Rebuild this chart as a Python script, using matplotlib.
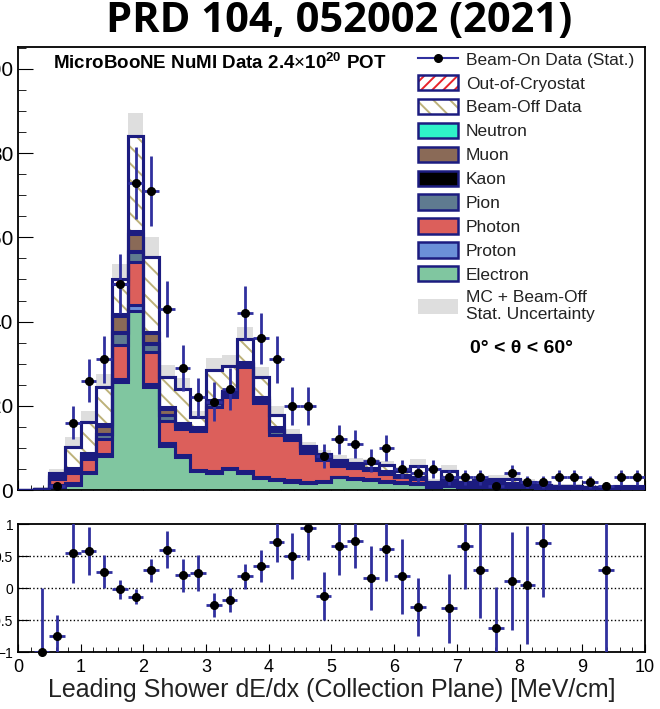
import numpy as np
import matplotlib.pyplot as plt
from matplotlib.patches import Patch
from matplotlib.lines import Line2D
from matplotlib.legend_handler import HandlerTuple
from matplotlib.ticker import MultipleLocator, FixedLocator

plt.rcParams['font.family'] = ['Liberation Sans', 'DejaVu Sans']
plt.rcParams['mathtext.fontset'] = 'custom'
plt.rcParams['mathtext.rm'] = 'Liberation Sans'
plt.rcParams['mathtext.bf'] = 'Liberation Sans:bold'
plt.rcParams['hatch.linewidth'] = 1.4

# 40 bins of 0.25 MeV/cm between 0 and 10
bin_edges = np.linspace(0, 10, 41)

electron = [0, 0.1, 0.8, 1.2, 4.0, 8.0, 25.7, 42.6, 24.5, 10.5,
            7.9, 4.4, 4.0, 4.9, 4.0, 2.8, 2.4, 2.0, 1.7, 2.0,
            3.0, 2.6, 2.4, 2.0, 1.6, 1.5, 0.7, 1.0, 0.7, 0.8,
            0.8, 0.7, 0.6, 0.4, 0.4, 0.4, 0.3, 0.3, 0.3, 0.3]
proton = [0, 0.0, 0.3, 0.4, 0.3, 0.5, 0.7, 1.3, 0.6, 0.6,
          0.4, 0.4, 0.4, 0.4, 0.4, 0.3, 0.3, 0.3, 0.3, 0.2,
          0.2, 0.2, 0.2, 0.2, 0.2, 0.2, 0.1, 0.1, 0.1, 0.1,
          0.1, 0.1, 0.1, 0.1, 0.0, 0.0, 0.0, 0.0, 0.0, 0.0]
photon = [0, 0.2, 1.6, 2.4, 3.1, 3.5, 8.0, 10.3, 7.6, 5.4,
          6.3, 9.1, 15.4, 16.9, 24.9, 17.5, 10.4, 9.6, 6.7, 4.9,
          2.6, 2.5, 2.2, 1.6, 1.2, 0.9, 0.6, 0.7, 0.6, 0.7,
          0.6, 0.5, 0.5, 0.3, 0.3, 0.3, 0.2, 0.2, 0.3, 0.3]
pion = [0, 0.0, 0.4, 0.5, 0.5, 1.2, 3.0, 2.4, 2.0, 1.4,
        0.6, 0.6, 0.8, 0.6, 0.6, 0.8, 0.9, 0.5, 0.7, 0.5,
        0.3, 0.3, 0.2, 0.3, 0.2, 0.2, 0.2, 0.2, 0.1, 0.2,
        0.2, 0.1, 0.1, 0.1, 0.1, 0.1, 0.1, 0.1, 0.1, 0.1]
kaon = [0, 0, 0, 0, 0, 0.1, 0.2, 0.1, 0.1, 0,
        0, 0, 0, 0, 0, 0, 0, 0, 0, 0,
        0, 0, 0, 0, 0, 0, 0, 0, 0, 0,
        0, 0, 0, 0, 0, 0, 0, 0, 0, 0]
muon = [0, 0.0, 0.3, 0.5, 0.6, 1.9, 3.7, 4.0, 2.5, 1.3,
        0.4, 0.3, 0.5, 0.4, 0.3, 0.5, 0.6, 0.3, 0.5, 0.4,
        0.3, 0.2, 0.2, 0.2, 0.2, 0.2, 0.2, 0.2, 0.2, 0.2,
        0.2, 0.2, 0.2, 0.1, 0.1, 0.1, 0.1, 0.1, 0.1, 0.1]
neutron = [0, 0.0, 0.1, 0.2, 0.2, 0.5, 0.4, 0.8, 0.2, 0.4,
           0.2, 0.2, 0.3, 0.2, 0.3, 0.3, 0.4, 0.2, 0.3, 0.2,
           0.1, 0.1, 0.1, 0.1, 0.1, 0.1, 0.1, 0.1, 0.1, 0.1,
           0.1, 0.1, 0.1, 0.1, 0.0, 0.0, 0.0, 0.05, 0.0, 0.0]
beam_off = [0, 0.0, 0.5, 5.1, 7.5, 8.8, 7.3, 22.5, 17.9, 7.3,
            8.1, 2.4, 7.1, 6.1, 5.3, 4.6, 2.8, 0.2, 0.3, 0.4,
            0.7, 0.6, 1.0, 1.6, 1.0, 2.6, 0.1, 2.1, 0.2, 0.2,
            0.6, 1.0, 0.3, 0.1, 0.1, 0.1, 0.0, 0.05, 0.1, 0.1]
out_of_cryo = [0, 0, 0, 0, 0, 0, 1.0, 0, 0, 0,
               0, 0, 0, 0, 0, 0, 0, 0, 0, 0,
               0, 0, 0, 0, 0, 0, 0, 0, 0, 0,
               0, 0, 0, 0, 0, 0, 0, 0, 0, 0]
# MC + beam-off statistical uncertainty per bin
stat_unc = [0, 0.3, 0.9, 2.4, 2.6, 3.0, 3.6, 5.6, 4.7, 2.8,
            2.6, 1.4, 2.8, 2.6, 2.8, 2.5, 2.2, 1.5, 1.0, 0.9,
            1.2, 1.0, 1.0, 1.0, 1.0, 1.6, 0.5, 1.5, 0.6, 0.6,
            0.9, 1.0, 0.7, 0.4, 0.4, 0.4, 0.3, 0.4, 0.4, 0.4]

beam_on = [0, 0, 1, 16, 26, 31, 49, 73, 71, 43,
           29, 22, 21, 24, 42, 36, 31, 20, 20, 8,
           12, 11, 7, 10, 5, 4, 5, 3, 3, 3,
           1, 4, 2, 2, 3, 3, 2, 1, 3, 3]

# (data - prediction) / prediction, nan where outside [-1, 1]
nan = np.nan
ratio = [nan, -1.0, -0.75, 0.55, 0.58, 0.255, -0.02, -0.135, 0.28, 0.60,
         0.20, 0.23, -0.27, -0.19, 0.18, 0.35, 0.72, 0.50, 0.93, -0.125,
         0.66, 0.73, 0.15, 0.61, 0.18, -0.30, nan, -0.32, 0.66, 0.28,
         -0.62, 0.11, 0.05, 0.71, nan, nan, nan, 0.28, nan, nan]
ratio_err = [nan, 1.0, 0.33, 0.47, 0.38, 0.26, 0.15, 0.12, 0.18, 0.29,
             0.26, 0.28, 0.19, 0.19, 0.19, 0.25, 0.31, 0.36, 0.50, 0.37,
             0.45, 0.42, 0.50, 0.50, 0.59, 0.45, nan, 0.54, 0.67, 0.75,
             0.63, 0.76, 0.92, 0.85, nan, nan, nan, 1.5, nan, nan]

navy = '#1c1c80'
data_blue = '#30309e'
hatch_beige = '#bdb27a'

layers = [
    ('Electron', electron, '#80c6a0', None),
    ('Proton', proton, '#6b90d8', None),
    ('Photon', photon, '#dc5f5b', None),
    ('Pion', pion, '#5f7b90', None),
    ('Kaon', kaon, '#000000', None),
    ('Muon', muon, '#8a6a57', None),
    ('Neutron', neutron, '#2ff2c8', None),
    ('Beam-Off Data', beam_off, hatch_beige, '\\\\'),
    ('Out-of-Cryostat', out_of_cryo, '#e8232a', '///'),
]

W, H = 660, 709
fig = plt.figure(figsize=(W / 100, H / 100), dpi=100)
ax = fig.add_axes([18 / W, 1 - 490 / H, 627 / W, 443 / H])
rax = fig.add_axes([18 / W, 1 - 652 / H, 627 / W, 128 / H])

centers = 0.5 * (bin_edges[:-1] + bin_edges[1:])
total = np.sum([np.array(v, dtype=float) for _, v, _, _ in layers], axis=0)
unc = np.array(stat_unc)
ax.stairs(total + unc, bin_edges, baseline=total - unc, fill=True,
          color='#dedede', linewidth=0, zorder=1)

bottom = np.zeros(len(centers))
for name, vals, color, hatch in layers:
    top = bottom + np.array(vals, dtype=float)
    if hatch:
        ax.stairs(top, bin_edges, baseline=bottom, fill=True, facecolor='white',
                  edgecolor=color, hatch=hatch, linewidth=0, zorder=2)
    else:
        ax.stairs(top, bin_edges, baseline=bottom, fill=True, facecolor=color,
                  linewidth=0, zorder=2)
    ax.stairs(top, bin_edges, color=navy, linewidth=2.2, zorder=3)
    bottom = top

data = np.array(beam_on, dtype=float)
has = data > 0
ax.errorbar(centers[has], data[has], xerr=0.125, yerr=np.sqrt(data[has]),
            fmt='o', color='black', ecolor=data_blue, elinewidth=2,
            markersize=5.5, capsize=0, zorder=5)

ax.set_xlim(0, 10)
ax.set_ylim(0, 105.2)
ax.yaxis.set_major_locator(MultipleLocator(20))
ax.yaxis.set_minor_locator(MultipleLocator(5))
ax.xaxis.set_major_locator(MultipleLocator(1))
ax.xaxis.set_minor_locator(MultipleLocator(0.2))
ax.tick_params(which='both', direction='in', top=False, right=False)
ax.tick_params(axis='y', which='major', length=11, labelsize=15, pad=3.5)
ax.tick_params(axis='y', which='minor', length=6)
ax.tick_params(axis='x', which='major', length=7, labelbottom=False)
ax.tick_params(axis='x', which='minor', length=3.5)
for sp in ax.spines.values():
    sp.set_linewidth(1.3)

ax.text(0.056, 0.964,
        r'MicroBooNE NuMI Data 2.4$\times\mathbf{10}^{\mathbf{20}}$ POT',
        transform=ax.transAxes, fontsize=13.5, fontweight='bold',
        ha='left', va='center')
ax.text(0.721, 0.3205, '0° < θ < 60°', transform=ax.transAxes,
        fontsize=14, fontweight='bold', ha='left', va='center')

def boxed(face, hatch=None):
    # hatched fill with its own colour, framed by the navy outline
    return (Patch(facecolor='white', edgecolor=face, hatch=hatch, lw=0),
            Patch(facecolor='none', edgecolor=navy, lw=1.8))

handles = [
    Line2D([], [], color=data_blue, lw=1.5, marker='o', markersize=5.5,
           markerfacecolor='black', markeredgecolor='black'),
    boxed('#e8232a', '///'),
    boxed(hatch_beige, '\\\\'),
    Patch(facecolor='#2ff2c8', edgecolor=navy, lw=1.8),
    Patch(facecolor='#8a6a57', edgecolor=navy, lw=1.8),
    Patch(facecolor='#000000', edgecolor=navy, lw=1.8),
    Patch(facecolor='#5f7b90', edgecolor=navy, lw=1.8),
    Patch(facecolor='#dc5f5b', edgecolor=navy, lw=1.8),
    Patch(facecolor='#6b90d8', edgecolor=navy, lw=1.8),
    Patch(facecolor='#80c6a0', edgecolor=navy, lw=1.8),
    Patch(facecolor='#dedede', edgecolor='none'),
]
labels = ['Beam-On Data (Stat.)', 'Out-of-Cryostat', 'Beam-Off Data',
          'Neutron', 'Muon', 'Kaon', 'Pion', 'Photon', 'Proton', 'Electron',
          'MC + Beam-Off\nStat. Uncertainty']
leg = ax.legend(handles, labels, loc='upper left', bbox_to_anchor=(0.638, 0.991),
                frameon=False, fontsize=12.5, handlelength=2.3, handleheight=0.98,
                handletextpad=0.46, labelspacing=0.42, borderpad=0, borderaxespad=0,
                handler_map={tuple: HandlerTuple(ndivide=1, pad=0)})
for t in leg.get_texts():
    t.set_color('#222222')

# ratio panel
rax.errorbar(centers, ratio, xerr=0.125, yerr=ratio_err, fmt='none',
             ecolor=data_blue, elinewidth=2, capsize=0, zorder=3)
rax.plot(centers, ratio, 'o', color='black', markersize=5.5, clip_on=False, zorder=4)
for yv in (0.5, 0.0, -0.5):
    rax.axhline(yv, color='black', linestyle=':', linewidth=1, zorder=1)
rax.set_xlim(0, 10)
rax.set_ylim(-1, 1)
rax.yaxis.set_major_locator(FixedLocator([-1, -0.5, 0, 0.5, 1]))
rax.yaxis.set_major_formatter(lambda v, p: f'{v:g}'.replace('-', '\u2212'))
rax.xaxis.set_major_locator(MultipleLocator(1))
rax.xaxis.set_minor_locator(MultipleLocator(0.2))
rax.tick_params(which='both', direction='in', top=False, right=False)
rax.tick_params(axis='y', which='major', length=8, labelsize=10, pad=3.5)
rax.tick_params(axis='x', which='major', length=6, labelsize=13, pad=5)
rax.tick_params(axis='x', which='minor', length=3.5)
for sp in rax.spines.values():
    sp.set_linewidth(1.3)
rax.set_xlabel('Leading Shower dE/dx (Collection Plane) [MeV/cm]',
               fontsize=18, color='#222222')
rax.xaxis.set_label_coords(0.5, -0.2)

fig.text(0.514, 1 - 22 / H, 'PRD 104, 052002 (2021)', family='Open Sans',
         fontweight='bold', fontsize=30, ha='center', va='center')

fig.savefig('out.png', dpi=100)
